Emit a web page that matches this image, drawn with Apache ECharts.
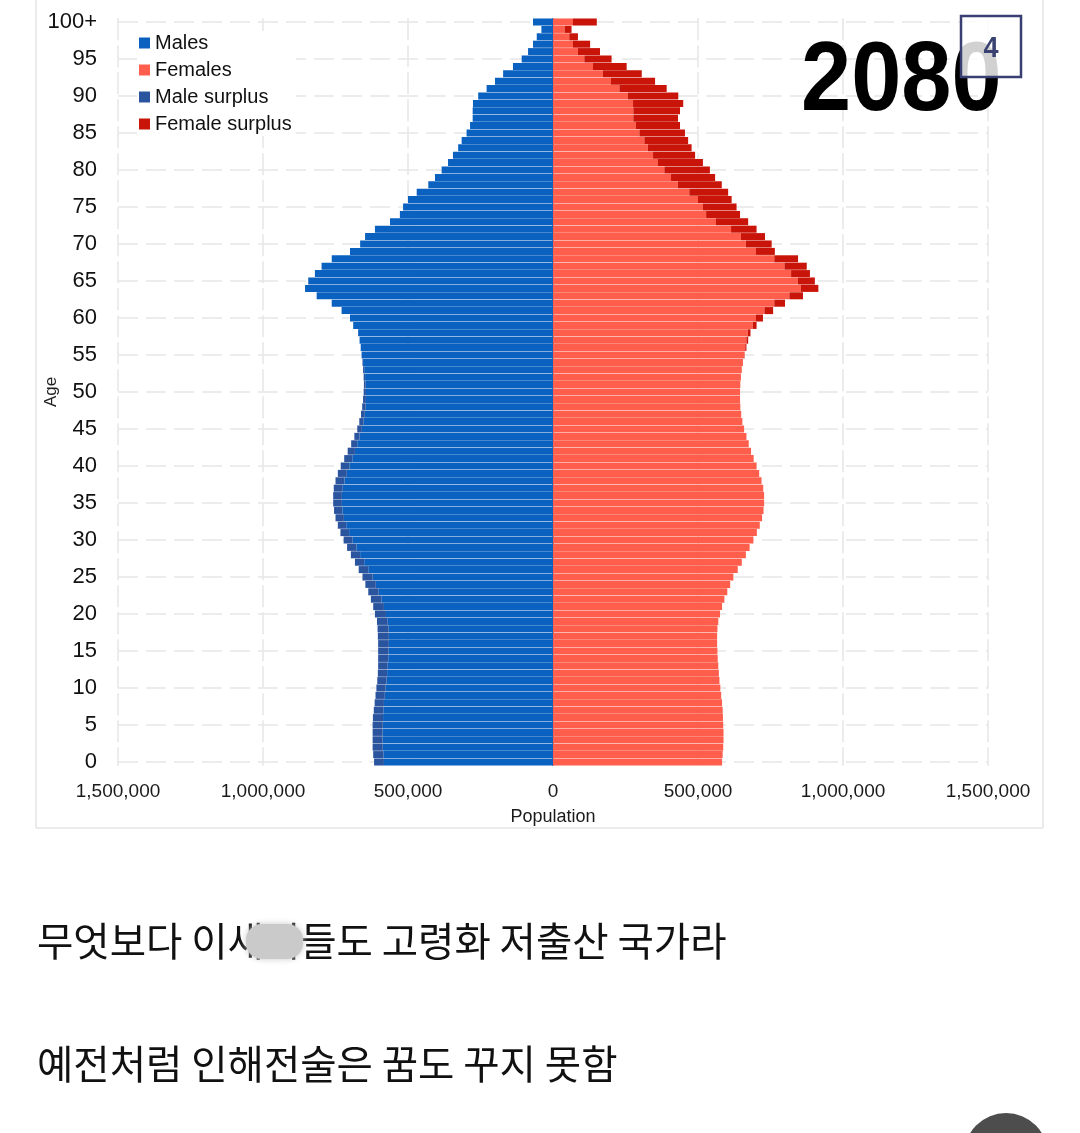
<!DOCTYPE html>
<html><head><meta charset="utf-8">
<script src="https://cdn.jsdelivr.net/npm/echarts@6/dist/echarts.min.js"></script>
<style>html,body{margin:0;padding:0;background:#fff}#c{width:1080px;height:1133px}</style>
</head><body><div id="c"></div>
<script>
// ---- data ----
const AGES = Array.from({length: 101}, (_, i) => i === 100 ? '100+' : String(i));
const AGE_TICKS = ['0','5','10','15','20','25','30','35','40','45','50','55','60','65','70','75','80','85','90','95','100+'];
const LEGEND_NAMES = ['Males', 'Females', 'Male surplus', 'Female surplus'];
const MALES = [
 617000,620000,622000,622000,622000,622000,621000,618000,615000,612000,
 609000,606000,604000,603000,603000,603000,603000,604000,605000,607000,
 614000,620000,628000,637000,647000,657000,670000,683000,697000,710000,
 722000,733000,742000,750000,755000,758000,758000,756000,750000,742000,
 732000,720000,708000,696000,685000,675000,668000,662000,658000,655000,
 653000,652000,653000,655000,657000,660000,663000,667000,672000,689000,
 700000,729000,763000,815000,855000,844000,821000,798000,763000,700000,
 665000,648000,614000,562000,528000,517000,500000,470000,430000,407000,
 384000,362000,345000,327000,315000,298000,286000,277000,277000,276000,
 258000,229000,200000,172000,138000,108000,86000,69000,56000,40000,
 69000
];
const FEMALES = [
 583000,585000,587000,588000,588000,587000,586000,585000,583000,580000,
 577000,574000,572000,570000,568000,567000,566000,566000,567000,570000,
 576000,583000,591000,601000,611000,622000,637000,651000,665000,678000,
 691000,703000,713000,721000,726000,728000,728000,725000,719000,711000,
 702000,692000,683000,675000,667000,659000,653000,649000,646000,645000,
 645000,646000,648000,651000,655000,661000,667000,673000,681000,702000,
 724000,759000,800000,862000,915000,903000,886000,875000,845000,765000,
 754000,731000,702000,673000,645000,633000,616000,604000,582000,559000,
 541000,517000,490000,478000,466000,455000,438000,431000,438000,449000,
 432000,392000,352000,306000,254000,202000,162000,128000,86000,64000,
 151000
];
const YEAR = '2080';
const BADGE = '4';
const CAPTION_1 = '무엇보다 이새끼들도 고령화 저출산 국가라';
const CAPTION_2 = '예전처럼 인해전술은 꿈도 꾸지 못함';

// ---- derived series ----
const common = MALES.map((m, i) => Math.min(m, FEMALES[i]));
const malesBar = common.map(v => -v);
const maleSurplus = MALES.map((m, i) => m > FEMALES[i] ? -(m - FEMALES[i]) : 0);
const femalesBar = common.slice();
const femaleSurplus = FEMALES.map((f, i) => f > MALES[i] ? f - MALES[i] : 0);

const FONT = '"Liberation Sans", Arial, sans-serif';
const chart = echarts.init(document.getElementById('c'), null, {renderer: 'canvas'});
const barCommon = {type: 'bar', stack: 'pop', barCategoryGap: '5%', zlevel: 1, z: 3, silent: true, emphasis: {disabled: true}};

chart.setOption({
  animation: false,
  backgroundColor: '#fff',
  textStyle: {fontFamily: FONT},
  grid: {left: 118, right: 92, top: 18.3, height: 747.4},
  legend: {
    orient: 'vertical', left: 137, top: 31, itemWidth: 11, itemHeight: 11, itemGap: 7,
    padding: [2, 4, 2, 2], backgroundColor: '#fff', z: 20,
    icon: 'rect', data: LEGEND_NAMES, selectedMode: false,
    textStyle: {fontSize: 20, color: '#111', lineHeight: 20, fontFamily: FONT}
  },
  xAxis: {
    type: 'value', min: -1500000, max: 1500000, interval: 500000,
    axisLine: {show: false}, axisTick: {show: false},
    axisLabel: {formatter: v => Math.abs(v).toLocaleString('en-US'), fontSize: 19, color: '#1a1a1a', margin: 17, fontFamily: FONT},
    splitLine: {show: true, lineStyle: {color: '#e6e6e6', width: 1.5, type: [22, 5]}},
    name: 'Population', nameLocation: 'middle', nameGap: 42, nameMoveOverlap: false,
    nameTextStyle: {fontSize: 18, color: '#1a1a1a', fontFamily: FONT}
  },
  yAxis: {
    type: 'category', data: AGES,
    axisLine: {show: false}, axisTick: {show: false}, splitLine: {show: false},
    axisLabel: {interval: (i) => i % 5 === 0, fontSize: 22, color: '#111', margin: 21, fontFamily: FONT},
    name: 'Age', nameLocation: 'middle', nameGap: 58, nameRotate: 90, nameMoveOverlap: false,
    nameTextStyle: {fontSize: 17, color: '#222', fontFamily: FONT}
  },
  series: [
    {
      name: 'grid', type: 'line', data: [], zlevel: 0, z: 0, silent: true,
      markLine: {silent: true, symbol: 'none', label: {show: false}, z: 1,
        lineStyle: {color: '#e6e6e6', width: 1.5, type: [20, 8]},
        emphasis: {disabled: true},
        data: AGE_TICKS.map(a => ({yAxis: a}))}
    },
    Object.assign({}, barCommon, {name: 'Males', data: malesBar, itemStyle: {color: '#0a61bf'}}),
    Object.assign({}, barCommon, {name: 'Male surplus', data: maleSurplus, itemStyle: {color: '#2b549e'}}),
    Object.assign({}, barCommon, {
      name: 'Females', data: femalesBar, itemStyle: {color: '#fe5e4b'},
      markLine: {silent: true, symbol: 'none', label: {show: false},
        lineStyle: {color: '#5d6f8e', width: 1.5, type: 'solid'},
        emphasis: {disabled: true},
        data: [{xAxis: 0}]}
    }),
    Object.assign({}, barCommon, {name: 'Female surplus', data: femaleSurplus, itemStyle: {color: '#c91409'}})
  ],
  graphic: [
    {type: 'line', shape: {x1: 36, y1: 0, x2: 36, y2: 828}, style: {stroke: '#e4e4e4', lineWidth: 1.5}, silent: true},
    {type: 'line', shape: {x1: 1043, y1: 0, x2: 1043, y2: 828}, style: {stroke: '#e4e4e4', lineWidth: 1.5}, silent: true},
    {type: 'line', shape: {x1: 36, y1: 828, x2: 1043, y2: 828}, style: {stroke: '#e4e4e4', lineWidth: 1.5}, silent: true},
    {type: 'text', x: 801, y: 83, scaleX: 0.92, zlevel: 2, z: 10,
      style: {text: YEAR, font: 'bold 98px "Liberation Sans", Arial, sans-serif', fill: '#000', align: 'left', verticalAlign: 'middle', textAlign: 'left', textVerticalAlign: 'middle'}},
    {type: 'rect', zlevel: 2, z: 11, shape: {x: 961, y: 16, width: 60, height: 61},
      style: {fill: 'rgba(255,255,255,0.82)', stroke: '#3a3f73', lineWidth: 2.5}},
    {type: 'text', x: 991, y: 49, zlevel: 2, z: 12, scaleY: 1.1,
      style: {text: BADGE, font: 'bold 27px "Liberation Sans", Arial, sans-serif', fill: '#3a4272', align: 'center', verticalAlign: 'middle', textAlign: 'center', textVerticalAlign: 'middle'}},
    {type: 'text', x: 37, y: 941, z: 10,
      style: {text: CAPTION_1, font: '39.5px "Noto Sans CJK KR", sans-serif', fill: '#111', verticalAlign: 'middle', textVerticalAlign: 'middle'}},
    {type: 'text', x: 37, y: 1064, z: 10,
      style: {text: CAPTION_2, font: '39.5px "Noto Sans CJK KR", sans-serif', fill: '#111', verticalAlign: 'middle', textVerticalAlign: 'middle'}},
    {type: 'rect', z: 20, shape: {x: 246, y: 924, width: 57, height: 35, r: 16},
      style: {fill: '#cacaca', shadowBlur: 6, shadowColor: '#cacaca'}},
    {type: 'circle', z: 5, shape: {cx: 1006, cy: 1155, r: 42}, style: {fill: '#4d4d4d'}}
  ]
});
</script>
</body></html>
